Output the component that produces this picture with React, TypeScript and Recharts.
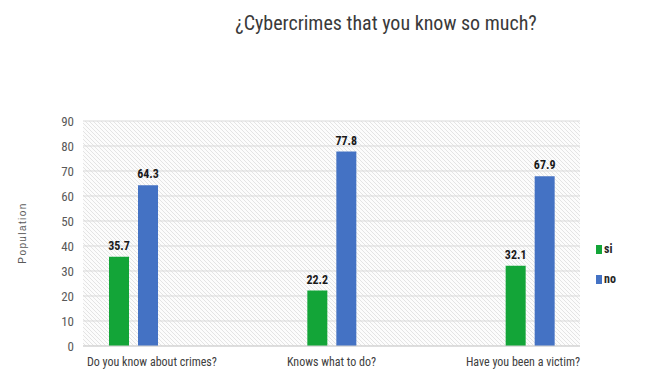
import React from "react";
import { BarChart, Bar, XAxis, YAxis, CartesianGrid, LabelList, Legend } from "recharts";

// categories and series
const categories = ["Do you know about crimes?", "Knows what to do?", "Have you been a victim?"];
const siValues = [35.7, 22.2, 32.1];
const noValues = [64.3, 77.8, 67.9];
const yTicks = [0, 10, 20, 30, 40, 50, 60, 70, 80, 90];

const series = [
  { key: "si", name: "si", color: "#13a538" },
  { key: "no", name: "no", color: "#4472c4" },
];

const data = categories.map((c, i) => ({ name: c, si: siValues[i], no: noValues[i] }));

const FONT = "'Roboto Condensed', 'DejaVu Sans Condensed', sans-serif";
const PLOT_LEFT = 83;
const PLOT_RIGHT = 580;

let ctx: CanvasRenderingContext2D | null = null;
const textWidth = (s: string) => {
  if (!ctx) ctx = document.createElement("canvas").getContext("2d");
  if (!ctx) return s.length * 5;
  ctx.font = `12px ${FONT}`;
  return ctx.measureText(s).width;
};

// excel keeps the category labels inside the plot, so clamp them
const CategoryTick = (props: any) => {
  const { x, y, payload } = props;
  const w = textWidth(payload.value);
  let cx = x;
  if (cx - w / 2 < PLOT_LEFT + 4) cx = PLOT_LEFT + 4 + w / 2;
  if (cx + w / 2 > PLOT_RIGHT) cx = PLOT_RIGHT - w / 2;
  return (
    <text x={cx} y={y + 12} textAnchor="middle" fontSize={12} fill="#404040" fontFamily={FONT}>
      {payload.value}
    </text>
  );
};

const LegendBox = () => (
  <div style={{ fontFamily: FONT, fontSize: 12, fontWeight: "bold", color: "#262626" }}>
    {series.map((s) => (
      <div key={s.key} style={{ display: "flex", alignItems: "center", height: 30 }}>
        <span style={{ display: "inline-block", width: 6, height: 9, background: s.color, marginRight: 2 }} />
        {s.name}
      </div>
    ))}
  </div>
);

export default function App() {
  return (
    <div style={{ position: "absolute", left: 0, top: 0, width: 647, height: 381, background: "#fff" }}>
      <svg width={0} height={0} style={{ position: "absolute" }}>
        <defs>
          <pattern id="hatch" patternUnits="userSpaceOnUse" width={4} height={4}>
            <rect width={4} height={4} fill="#fcfcfc" />
            <path d="M0,0 L4,4 M-1,3 L1,5 M3,-1 L5,1" stroke="#e4e4e4" strokeWidth={1} />
          </pattern>
        </defs>
      </svg>
      <div
        style={{
          position: "absolute",
          left: 0,
          top: 11,
          width: 772,
          textAlign: "center",
          fontFamily: FONT,
          fontSize: 20,
          color: "#3a3a3a",
        }}
      >
        ¿Cybercrimes that you know so much?
      </div>
      <div
        style={{
          position: "absolute",
          left: 22,
          top: 233,
          transform: "translate(-50%, -50%) rotate(-90deg)",
          fontFamily: "'Liberation Sans', Arial, sans-serif",
          fontSize: 10,
          letterSpacing: 1.4,
          color: "#595959",
          whiteSpace: "nowrap",
        }}
      >
        Population
      </div>
      <BarChart
        width={647}
        height={381}
        data={data}
        margin={{ top: 121, right: 27, left: 33, bottom: 10 }}
        barSize={20}
        barGap={9}
      >
        <CartesianGrid vertical={false} stroke="#d9d9d9" fill="url(#hatch)" fillOpacity={1} />
        <XAxis
          dataKey="name"
          tick={<CategoryTick />}
          tickLine={false}
          axisLine={{ stroke: "#d0d0d0" }}
          height={25}
          padding={{ left: -49, right: -49 }}
          interval={0}
        />
        <YAxis
          domain={[0, 90]}
          ticks={yTicks}
          width={50}
          axisLine={false}
          tickLine={false}
          tickSize={0}
          tickMargin={9}
          tick={{ fontSize: 13, fill: "#595959", fontFamily: FONT }}
        />
        <Legend
          layout="vertical"
          align="right"
          verticalAlign="middle"
          content={<LegendBox />}
          wrapperStyle={{ position: "absolute", left: 596, top: 234, width: 40 }}
        />
        {series.map((s) => (
          <Bar key={s.key} dataKey={s.key} name={s.name} fill={s.color} isAnimationActive={false}>
            <LabelList
              dataKey={s.key}
              position="top"
              offset={7}
              style={{ fontSize: 12, fontWeight: "bold", fill: "#1a1a1a", fontFamily: FONT }}
            />
          </Bar>
        ))}
      </BarChart>
    </div>
  );
}
